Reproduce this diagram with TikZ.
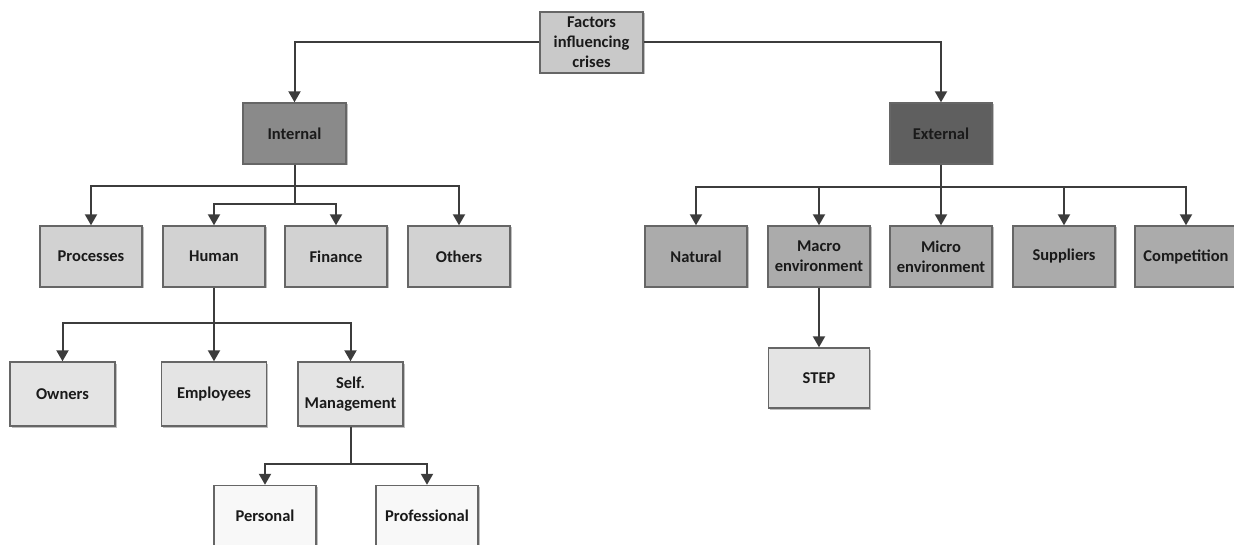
\documentclass[tikz,border=0pt]{standalone}
\usepackage{fontspec}
\setmainfont{Carlito}
\usetikzlibrary{arrows.meta,shadows}
\definecolor{lineC}{HTML}{3C3C3C}
\definecolor{borderC}{HTML}{666666}
\definecolor{cTop}{HTML}{C9C9C9}
\definecolor{cInt}{HTML}{8A8A8A}
\definecolor{cExt}{HTML}{5F5F5F}
\definecolor{cLeft}{HTML}{D2D2D2}
\definecolor{cRight}{HTML}{ABABAB}
\definecolor{cThird}{HTML}{E4E4E4}
\definecolor{cFourth}{HTML}{F8F8F8}
\definecolor{txtC}{HTML}{1A1A1A}
\tikzset{
  box/.style={draw=borderC, line width=1.4pt, minimum width=102pt, minimum height=61pt,
    inner sep=1pt, align=center, text=txtC,
    font=\fontsize{16.5}{20}\selectfont\bfseries,
    drop shadow={shadow xshift=1.5pt, shadow yshift=-1.5pt, opacity=0.25, fill=black}},
  conn/.style={draw=lineC, line width=2pt},
  arr/.style={conn, -{Triangle[width=12pt,length=11pt]}},
}
\begin{document}
\begin{tikzpicture}[x=1pt,y=-1pt]
\useasboundingbox (0,0) rectangle (1234,545);
% nodes
\node[box, fill=cTop, minimum width=103pt] (F) at (591.5,42.5) {Factors\\influencing\\crises};
\node[box, fill=cInt, minimum width=103pt] (In) at (294.5,133.5) {Internal};
\node[box, fill=cExt] (Ex) at (941,133.5) {External};
\node[box, fill=cLeft] (Proc) at (91,256.5) {Processes};
\node[box, fill=cLeft] (Hum) at (214,256.5) {Human};
\node[box, fill=cLeft] (Fin) at (336,256.5) {Finance};
\node[box, fill=cLeft] (Oth) at (459,256.5) {Others};
\node[box, fill=cRight] (Nat) at (696,256.5) {Natural};
\node[box, fill=cRight] (Mac) at (819,256.5) {Macro\\environment};
\node[box, fill=cRight] (Mic) at (941,256.5) {Micro\\environment};
\node[box, fill=cRight] (Sup) at (1064,256.5) {Suppliers};
\node[box, fill=cRight] (Comp) at (1186,256.5) {Competition};
\node[box, fill=cThird, minimum width=105pt, minimum height=64pt] (Own) at (62.5,394) {Owners};
\node[box, fill=cThird, minimum width=105pt, minimum height=64pt] (Emp) at (214,394) {Employees};
\node[box, fill=cThird, minimum width=105pt, minimum height=64pt] (Self) at (350.5,394) {Self.\\Management};
\node[box, fill=cThird, minimum width=101pt, minimum height=60pt] (Step) at (819,378) {STEP};
\node[box, fill=cFourth] (Pers) at (265,516) {Personal};
\node[box, fill=cFourth] (Prof) at (427,516) {Professional};
% bus coordinates
\coordinate (ib) at (294.5,186);
\coordinate (ib2) at (294.5,204);
\coordinate (eb) at (941,187);
\coordinate (hb) at (214,323);
\coordinate (sb) at (350.5,464);
% connectors
\draw[arr] (F.west) -| (In.north);
\draw[arr] (F.east) -| (Ex.north);
\draw[conn] (In.south) -- (ib2);
\draw[arr] (ib) -| (Proc.north);
\draw[arr] (ib) -| (Oth.north);
\draw[arr] (ib2) -| (Hum.north);
\draw[arr] (ib2) -| (Fin.north);
\draw[arr] (Ex.south) -- (Mic.north);
\draw[arr] (eb) -| (Nat.north);
\draw[arr] (eb) -| (Mac.north);
\draw[arr] (eb) -| (Sup.north);
\draw[arr] (eb) -| (Comp.north);
\draw[arr] (Hum.south) -- (Emp.north);
\draw[arr] (hb) -| (Own.north);
\draw[arr] (hb) -| (Self.north);
\draw[conn] (Self.south) -- (sb);
\draw[arr] (sb) -| (Pers.north);
\draw[arr] (sb) -| (Prof.north);
\draw[arr] (Mac.south) -- (Step.north);
\end{tikzpicture}
\end{document}
